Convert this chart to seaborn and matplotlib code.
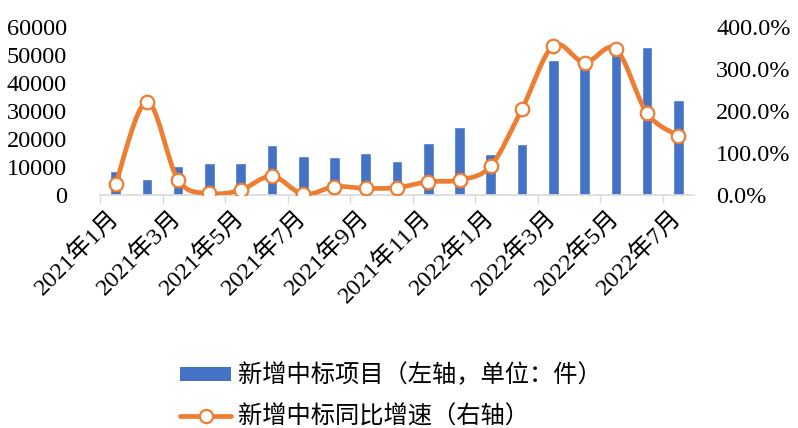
import numpy as np
import matplotlib.pyplot as plt
import seaborn as sns
from matplotlib.path import Path
from matplotlib.patches import PathPatch
from matplotlib.lines import Line2D
from matplotlib.patches import Patch
from matplotlib.ticker import FuncFormatter
from matplotlib.transforms import ScaledTranslation

# 数据
months = ["2021年1月", "2021年2月", "2021年3月", "2021年4月", "2021年5月", "2021年6月",
          "2021年7月", "2021年8月", "2021年9月", "2021年10月", "2021年11月", "2021年12月",
          "2022年1月", "2022年2月", "2022年3月", "2022年4月", "2022年5月", "2022年6月",
          "2022年7月"]
new_bids = [8600, 5700, 10400, 11300, 11500, 17900, 13800, 13500, 15100, 12000,
            18500, 24400, 14800, 18300, 48200, 47000, 50500, 53000, 33800]
yoy_growth = [0.254, 2.22, 0.357, 0.04, 0.119, 0.45, 0.017, 0.198, 0.16, 0.175,
              0.317, 0.357, 0.69, 2.05, 3.555, 3.15, 3.476, 1.945, 1.41]

bar_label = "新增中标项目（左轴，单位：件）"
line_label = "新增中标同比增速（右轴）"

BLUE = "#4472C4"
ORANGE = "#ED7D31"
FS = 17.5

sns.set_theme(style="white")
plt.rcParams["font.family"] = ["Liberation Serif", "Noto Sans CJK SC"]
plt.rcParams["font.size"] = FS
plt.rcParams["xtick.labelsize"] = FS
plt.rcParams["ytick.labelsize"] = FS
plt.rcParams["legend.fontsize"] = FS
plt.rcParams["text.color"] = "black"
plt.rcParams["xtick.color"] = "black"
plt.rcParams["ytick.color"] = "black"

fig = plt.figure(figsize=(7.98, 4.28), dpi=100)
ax = fig.add_axes([100 / 798, 233 / 428, 594 / 798, 168 / 428])

x = np.arange(len(months))
sns.barplot(x=x, y=new_bids, color=BLUE, width=0.34, saturation=1, ax=ax)
ax.set_xlim(-0.5, len(months) - 0.5)
ax.set_ylim(0, 60000)
ax.set_yticks(np.arange(0, 60001, 10000))
ax.tick_params(axis="y", length=0, pad=24, labelcolor="black")

# x轴标签：每两个月一个
ax.set_xticks(x[::2])
ax.set_xticklabels(months[::2], rotation=45, ha="right", rotation_mode="anchor", va="center")
shift = ScaledTranslation(6 / 100, -10 / 100, fig.dpi_scale_trans)
for lbl in ax.get_xticklabels():
    lbl.set_transform(lbl.get_transform() + shift)
ax.set_xticks(np.arange(-0.5, len(months) - 1, 2), minor=True)
ax.tick_params(axis="x", which="major", length=0, pad=14, labelcolor="black")
ax.tick_params(axis="x", which="minor", length=6, width=1, color="#D9D9D9", direction="out",
               bottom=True)
ax.set_xlabel("")
for s in ["top", "left", "right"]:
    ax.spines[s].set_visible(False)
ax.spines["bottom"].set_color("#D9D9D9")
ax.spines["bottom"].set_linewidth(1.2)

# 右轴：同比增速（平滑曲线）
ax2 = ax.twinx()
ax2.set_ylim(0, 4.0)
ax2.set_yticks(np.arange(0, 4.01, 1.0))
ax2.yaxis.set_major_formatter(FuncFormatter(lambda v, p: f"{v * 100:.1f}%"))
ax2.tick_params(axis="y", length=0, pad=16, labelcolor="black")
for s in ax2.spines.values():
    s.set_visible(False)

y = np.array(yoy_growth)
pts = np.column_stack([x, y])
verts = [pts[0]]
codes = [Path.MOVETO]
n = len(pts)
for i in range(n - 1):
    p0 = pts[max(i - 1, 0)]
    p1 = pts[i]
    p2 = pts[i + 1]
    p3 = pts[min(i + 2, n - 1)]
    c1 = p1 + (p2 - p0) / 6
    c2 = p2 - (p3 - p1) / 6
    verts += [c1, c2, p2]
    codes += [Path.CURVE4] * 3
ax2.add_patch(PathPatch(Path(verts, codes), facecolor="none", edgecolor=ORANGE,
                        linewidth=3.4, capstyle="round", joinstyle="round", zorder=3))
sns.scatterplot(x=x, y=yoy_growth, ax=ax2, s=95, color="white", edgecolor=ORANGE,
                linewidth=1.6, zorder=4, legend=False)
ax2.set_xlim(-0.5, len(months) - 0.5)

handles = [
    Patch(facecolor=BLUE, edgecolor="none"),
    Line2D([], [], color=ORANGE, linewidth=3.4, marker="o", markersize=9.5,
           markerfacecolor="white", markeredgecolor=ORANGE, markeredgewidth=1.6),
]
fig.legend(handles, [bar_label, line_label], loc="upper left",
           bbox_to_anchor=(180 / 798, 1 - 364 / 428), frameon=False,
           handlelength=2.1, handleheight=0.5, handletextpad=0.3, labelspacing=0.75,
           borderpad=0, borderaxespad=0)

fig.savefig("out.png", dpi=100)
